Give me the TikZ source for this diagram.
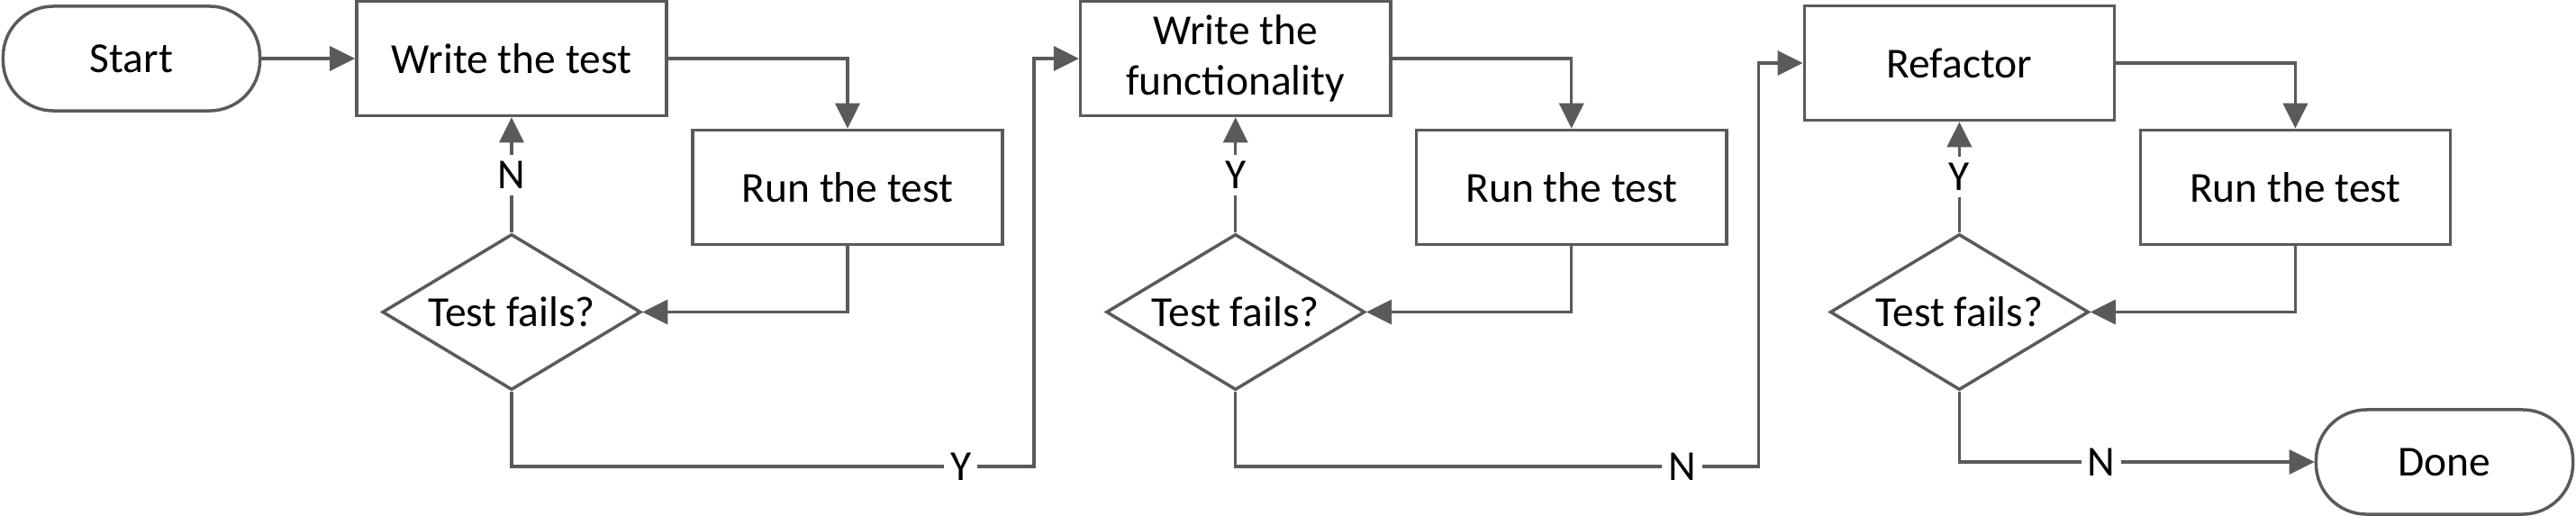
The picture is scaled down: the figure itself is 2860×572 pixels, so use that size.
\documentclass[tikz,border=0pt]{standalone}
\usepackage{fontspec}
\setmainfont{Carlito}
\usetikzlibrary{arrows.meta, positioning, shapes.geometric}
\definecolor{edge}{HTML}{5A5A5A}

\begin{document}
\begin{tikzpicture}[x=0.01cm, y=-0.01cm, font=\fontsize{13.5}{16}\selectfont,
    box/.style={draw=edge, line width=1pt, minimum width=3.44cm, minimum height=1.27cm, align=center},
    test/.style={diamond, draw=edge, line width=1pt, aspect=1.66, inner sep=0pt,
                 minimum width=2.87cm, minimum height=1.73cm},
    terminal/.style={draw=edge, line width=1pt, rounded corners=0.56cm,
                     minimum width=2.85cm, minimum height=1.16cm},
    flow/.style={draw=edge, line width=1pt, -{Triangle[length=0.28cm, width=0.27cm]}},
    lbl/.style={fill=white, inner sep=2pt}]
  \useasboundingbox (0,0) rectangle (2860,572);

  \node[terminal] (start) at (146,65) {Start};
  \node[terminal] (done) at (2714,513) {Done};

  % one column per phase
  \foreach \t/\a/\wy [count=\i from 1] in
    {Write the test/N/65, {Write the\\functionality}/Y/65, Refactor/Y/70}
  {
    \pgfmathsetmacro{\x}{803.7*(\i-1)}
    \node[box] (w\i) at (568+\x, \wy) {\t};
    \node[box] (r\i) at (941+\x, 208) {Run the test};
    \node[test] (d\i) at (568+\x, 346.5) {Test fails?};
    \draw[flow] (w\i.east) -| (r\i.north);
    \draw[flow] (r\i.south) |- (d\i.east);
    \draw[flow] (d\i.north) -- node[lbl] {\a} (w\i.south);
  }

  \coordinate (j1) at (1148,518);
  \coordinate (j2) at (1952.5,518);

  \draw[flow] (start.east) -- (w1.west);
  \draw[flow] (d1.south) |- node[lbl, pos=0.93] {Y} (j1) |- (w2.west);
  \draw[flow] (d2.south) |- node[lbl, pos=0.927] {N} (j2) |- (w3.west);
  \draw[flow] (d3.south) |- node[lbl, pos=0.7] {N} (done.west);
\end{tikzpicture}
\end{document}
